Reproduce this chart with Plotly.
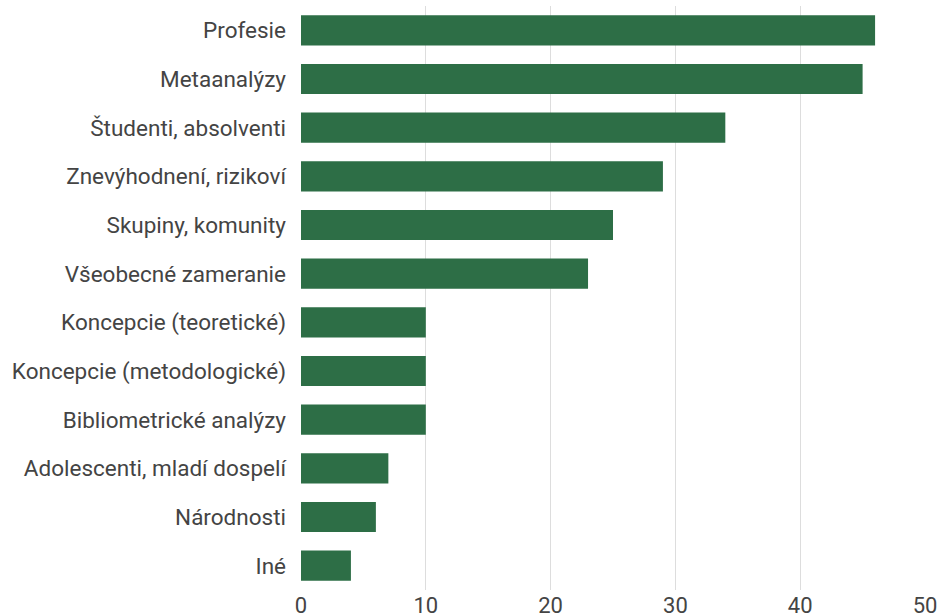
import plotly.graph_objects as go

categories = ["Profesie", "Metaanalýzy", "Študenti, absolventi", "Znevýhodnení, rizikoví",
              "Skupiny, komunity", "Všeobecné zameranie", "Koncepcie (teoretické)",
              "Koncepcie (metodologické)", "Bibliometrické analýzy",
              "Adolescenti, mladí dospelí", "Národnosti", "Iné"]
values = [46, 45, 34, 29, 25, 23, 10, 10, 10, 7, 6, 4]
x_ticks = [0, 10, 20, 30, 40, 50]

fig = go.Figure(go.Bar(
    x=values, y=categories, orientation="h",
    marker=dict(color="#2d6e46", line=dict(width=0)),
))
fig.update_layout(
    width=939, height=615,
    margin=dict(l=301, r=14, t=6, b=25, autoexpand=False),
    paper_bgcolor="white", plot_bgcolor="white",
    bargap=0.38,
    font=dict(family="Roboto", size=22.5, color="#444444"),
    showlegend=False,
)
fig.update_xaxes(range=[0, 50], tickvals=x_ticks, showgrid=True, gridcolor="#dddddd",
                 gridwidth=1, zeroline=False, showline=False, ticks="", automargin=False,
                 tickfont=dict(size=22, color="#444444"))
fig.update_yaxes(autorange="reversed", showgrid=False, zeroline=False, showline=False,
                 ticks="", automargin=False, ticklabelstandoff=14,
                 tickfont=dict(size=22.5, color="#444444"))
fig.write_html("out.html", config={"displayModeBar": False},
               post_script="document.body.style.margin='0px';")
